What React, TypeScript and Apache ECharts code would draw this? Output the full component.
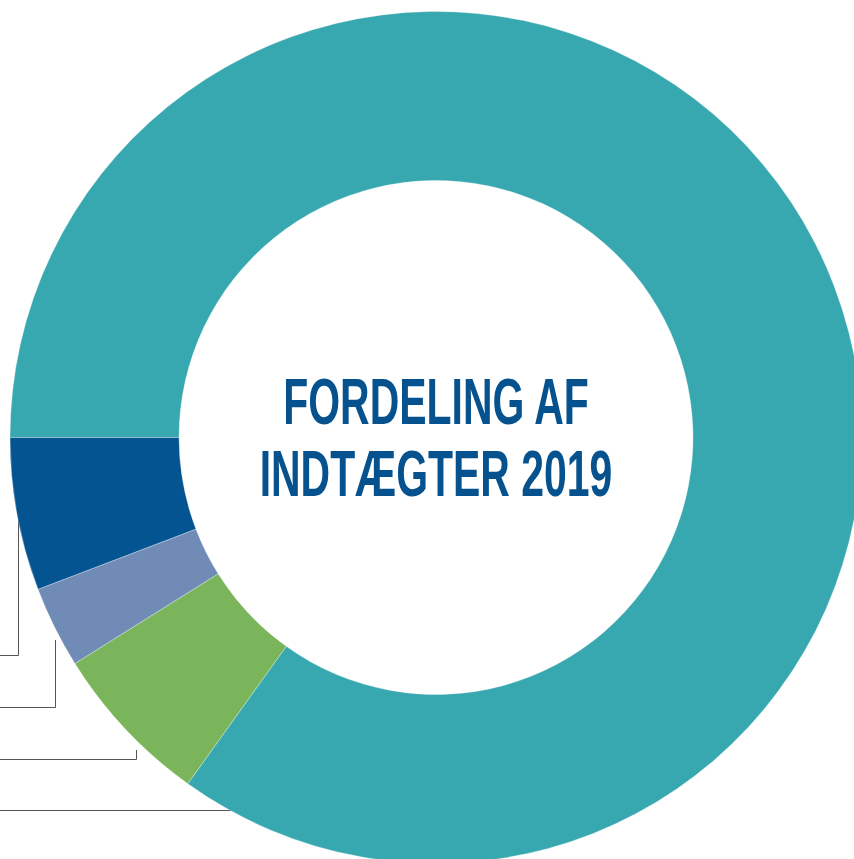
import React, { useEffect, useRef } from "react";
import * as echarts from "echarts";

const categories = ["Teal", "Green", "Light blue", "Dark blue"];
const values = [84.9, 6.2, 3.1, 5.8];
const colors = ["#37a8af", "#7ab55c", "#6f8bb6", "#055492"];
const titleLines = ["FORDELING AF", "INDTÆGTER 2019"];

export default function App() {
  const ref = useRef<HTMLDivElement>(null);
  useEffect(() => {
    document.body.style.margin = "0";
    const chart = echarts.init(ref.current!, null, { renderer: "svg" });
    const lineStyle = { stroke: "#555", lineWidth: 1, fill: "none" };
    const textStyle = (t: string) => ({
      text: t, fontFamily: "Liberation Sans", fontWeight: "bold", fontSize: 65,
      fill: "#06528f", textAlign: "center", textVerticalAlign: "middle",
    });
    chart.setOption({
      animation: false,
      backgroundColor: "#ffffff",
      series: [
        {
          type: "pie",
          center: [436, 437.5],
          radius: [257, 426],
          startAngle: 180,
          clockwise: true,
          label: { show: false },
          labelLine: { show: false },
          silent: true,
          z: 5,
          itemStyle: { borderColor: "rgba(255,255,255,0.6)", borderWidth: 0.5 },
          data: categories.map((c, i) => ({ name: c, value: values[i], itemStyle: { color: colors[i] } })),
        },
      ],
      graphic: [
        { type: "polyline", z: 0, shape: { points: [[18.5, 480], [18.5, 655.5], [0, 655.5]] }, style: lineStyle },
        { type: "polyline", z: 0, shape: { points: [[55.5, 640], [55.5, 707.5], [0, 707.5]] }, style: lineStyle },
        { type: "polyline", z: 0, shape: { points: [[136.5, 750], [136.5, 759.5], [0, 759.5]] }, style: lineStyle },
        { type: "polyline", z: 0, shape: { points: [[245, 810.5], [0, 810.5]] }, style: lineStyle },
        { type: "text", x: 436, y: 402, scaleX: 0.63, z: 10, style: textStyle(titleLines[0]) },
        { type: "text", x: 436, y: 474, scaleX: 0.63, z: 10, style: textStyle(titleLines[1]) },
      ],
    });
    return () => chart.dispose();
  }, []);
  return <div ref={ref} style={{ position: "fixed", left: 0, top: 0, width: 854, height: 859 }} />;
}
